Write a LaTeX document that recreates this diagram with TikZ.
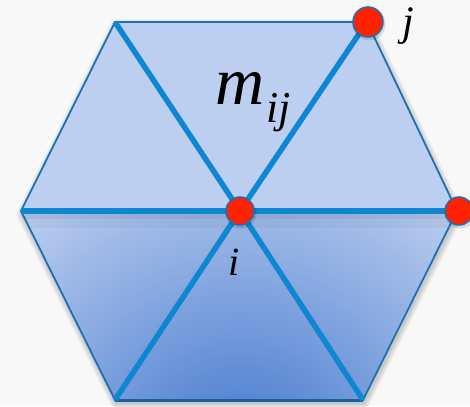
\documentclass[tikz,border=0pt]{standalone}
\usepackage{fontspec}
\setmainfont{Liberation Serif}
\definecolor{topfill}{RGB}{189,207,240}
\definecolor{botdark}{RGB}{62,116,204}
\definecolor{spoke}{RGB}{14,134,210}
\definecolor{rim}{RGB}{30,112,180}
\definecolor{dotred}{RGB}{255,34,0}
\definecolor{bg}{RGB}{248,248,248}
\begin{document}
\begin{tikzpicture}[x=1pt,y=-1pt,
  spokeline/.style={draw=spoke,line width=5.5pt},
  rimline/.style={draw=rim,line width=1.8pt,line join=miter},
  halo/.style={draw=black,line join=round,opacity=0.05},
  vdot/.style={circle,fill=dotred,draw=rim,line width=1.5pt,minimum size=28pt,inner sep=0pt},
  dotshadow/.style={circle,fill=black,opacity=0.12,minimum size=31pt,inner sep=0pt},
  lbl/.style={inner sep=0pt,font=\itshape}]
\useasboundingbox (0,0) rectangle (470,406);
\fill[bg] (0,0) rectangle (470,406);
\coordinate (L) at (21,211);
\coordinate (TL) at (115,22);
\coordinate (TR) at (367,22);
\coordinate (R) at (457,211);
\coordinate (BR) at (363,400);
\coordinate (BL) at (115,400);
\coordinate (C) at (240,211);
% soft shadow of hexagon
\begin{scope}[shift={(1,3)}]
  \foreach \w in {2,5,8,11} \draw[halo,line width=\w pt] (21,211)--(115,22)--(367,22)--(457,211)--(363,400)--(115,400)--cycle;
\end{scope}
% upper half
\fill[topfill] (L)--(TL)--(TR)--(R)--cycle;
% lower half shading
\begin{scope}
  \clip (L)--(R)--(BR)--(BL)--cycle;
  \fill[topfill] (0,211) rectangle (470,406);
  \shade[inner color=botdark,outer color=topfill] (240,470) circle (340);
  \fill[black,opacity=0.05] (21,211) rectangle (457,219);
  \fill[black,opacity=0.03] (21,211) rectangle (457,228);
\end{scope}
% outline
\draw[rimline] (L)--(TL)--(TR)--(R)--(BR)--(BL)--cycle;
\draw[draw=rim!85!black,line width=3pt] (BL)--(BR);
% spokes
\foreach \v in {L,TL,TR,R,BR,BL} \draw[spokeline] (C)--(\v);
% dots
\node[dotshadow] at (241,213) {};
\node[dotshadow,minimum size=33pt] at (369,24) {};
\node[dotshadow] at (460,213) {};
\node[vdot] (ni) at (C) {};
\node[vdot,minimum size=30pt] (nj) at (368,22) {};
\node[vdot] (nk) at (459,211) {};
% labels
\node[lbl,anchor=base] (lj) at (408,36) {\fontsize{42}{42}\selectfont j};
\node[lbl,anchor=base west] (lm) at (215,105) {\fontsize{68}{68}\selectfont m};
\node[lbl,anchor=base west] (lij) at (266,123) {\fontsize{44}{44}\selectfont ij};
\node[lbl,anchor=base] (li) at (234,275) {\fontsize{40}{40}\selectfont i};
\end{tikzpicture}
\end{document}
